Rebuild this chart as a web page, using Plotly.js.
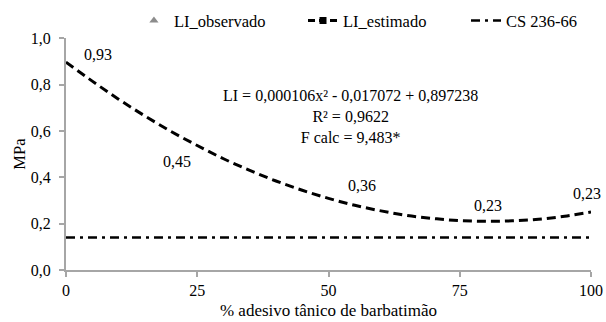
<!DOCTYPE html>
<html>
<head>
<meta charset="utf-8">
<script src="https://cdn.plot.ly/plotly-3.0.1.min.js"></script>
<style>html,body{margin:0;padding:0;background:#fff;}#chart{width:606px;height:322px;}</style>
</head>
<body>
<div id="chart"></div>
<script>
// Observed points (only their labels are visible in the reference)
const obsX = [0, 25, 50, 75, 100];
const obsY = [0.93, 0.45, 0.36, 0.23, 0.23];
const obsLabels = ["0,93", "0,45", "0,36", "0,23", "0,23"];
// label offsets in px relative to the observed point
const labelDX = [32, -20, 33, 28, -4];
const labelDY = [0, 4, 1, 11, 23];

// Estimated curve
const estX = [0, 5, 10, 15, 20, 25, 30, 35, 40, 45, 50, 55, 60, 65, 70, 75, 80, 85, 90, 95, 100];
const estY = [0.897, 0.815, 0.737, 0.665, 0.598, 0.537, 0.480, 0.430, 0.384, 0.344, 0.309,
              0.279, 0.255, 0.235, 0.222, 0.213, 0.210, 0.212, 0.219, 0.232, 0.250];

// CS 236-66 reference line
const csX = [0, 100];
const csY = [0.14, 0.14];

const xTicks = [0, 25, 50, 75, 100];
const yTicks = [0, 0.2, 0.4, 0.6, 0.8, 1.0];
const yTickText = ["0,0", "0,2", "0,4", "0,6", "0,8", "1,0"];

const eqText = "LI = 0,000106x² - 0,017072 + 0,897238<br>R² = 0,9622<br>F calc = 9,483*";

const FONT = "'Liberation Serif', 'Times New Roman', Times, serif";
const AXC = "#a6a6a6";

const traces = [
  { // observed (labels only in plot; legend marker)
    x: [null], y: [null], name: "LI_observado", mode: "markers", legend: "legend",
    marker: { symbol: "triangle-up", size: 8, color: "#8c8c8c" },
    hoverinfo: "skip"
  },
  { // estimated legend entry
    x: [null], y: [null], name: "LI_estimado", mode: "lines+markers", legend: "legend2",
    line: { color: "#000", width: 3, dash: "7px,4px" },
    marker: { symbol: "square", size: 7, color: "#000" },
    hoverinfo: "skip"
  },
  { // estimated curve
    x: estX, y: estY, mode: "lines", showlegend: false,
    line: { color: "#000", width: 3, dash: "9px,5px", shape: "spline" }
  },
  {
    x: csX, y: csY, name: "CS 236-66", mode: "lines", legend: "legend3",
    line: { color: "#000", width: 2.5, dash: "9px,5px,3px,5px" }
  }
];

const annotations = obsX.map((x, i) => ({
  x: x, y: obsY[i], xref: "x", yref: "y", text: obsLabels[i], showarrow: false,
  xshift: labelDX[i], yshift: labelDY[i], font: { family: FONT, size: 16, color: "#000" }
}));
annotations.push({
  x: 0.541, y: 0.661, xref: "paper", yref: "paper", text: eqText, showarrow: false,
  align: "center", font: { family: FONT, size: 16, color: "#000" }
});

function legendAt(x) {
  return {
    orientation: "h", xref: "container", yref: "container",
    x: x, xanchor: "left", y: 0.99, yanchor: "top",
    font: { family: FONT, size: 16.5, color: "#000" }, bgcolor: "rgba(0,0,0,0)"
  };
}

const layout = {
  width: 606, height: 322,
  margin: { l: 66, r: 15, t: 34, b: 52 },
  paper_bgcolor: "#fff", plot_bgcolor: "#fff",
  font: { family: FONT, size: 16, color: "#000" },
  showlegend: true,
  legend: legendAt(0.221),
  legend2: legendAt(0.5),
  legend3: legendAt(0.769),
  xaxis: {
    range: [0, 100], tickvals: xTicks, ticktext: xTicks.map(String),
    showgrid: false, zeroline: false, showline: true, linecolor: AXC, linewidth: 2,
    ticks: "outside", ticklen: 5, tickcolor: AXC, tickwidth: 2,
    tickfont: { family: FONT, size: 16, color: "#000" },
    title: { text: "% adesivo tânico de barbatimão", font: { family: FONT, size: 17, color: "#000" }, standoff: 6 }
  },
  yaxis: {
    range: [0, 1], tickvals: yTicks, ticktext: yTickText,
    showgrid: false, zeroline: false, showline: true, linecolor: AXC, linewidth: 2,
    ticks: "outside", ticklen: 5, tickcolor: AXC, tickwidth: 2, ticklabelstandoff: 5,
    tickfont: { family: FONT, size: 16, color: "#000" },
    title: { text: "MPa", font: { family: FONT, size: 16.5, color: "#000" }, standoff: 1 }
  },
  annotations: annotations
};

Plotly.newPlot("chart", traces, layout, { displayModeBar: false, staticPlot: true });
</script>
</body>
</html>
